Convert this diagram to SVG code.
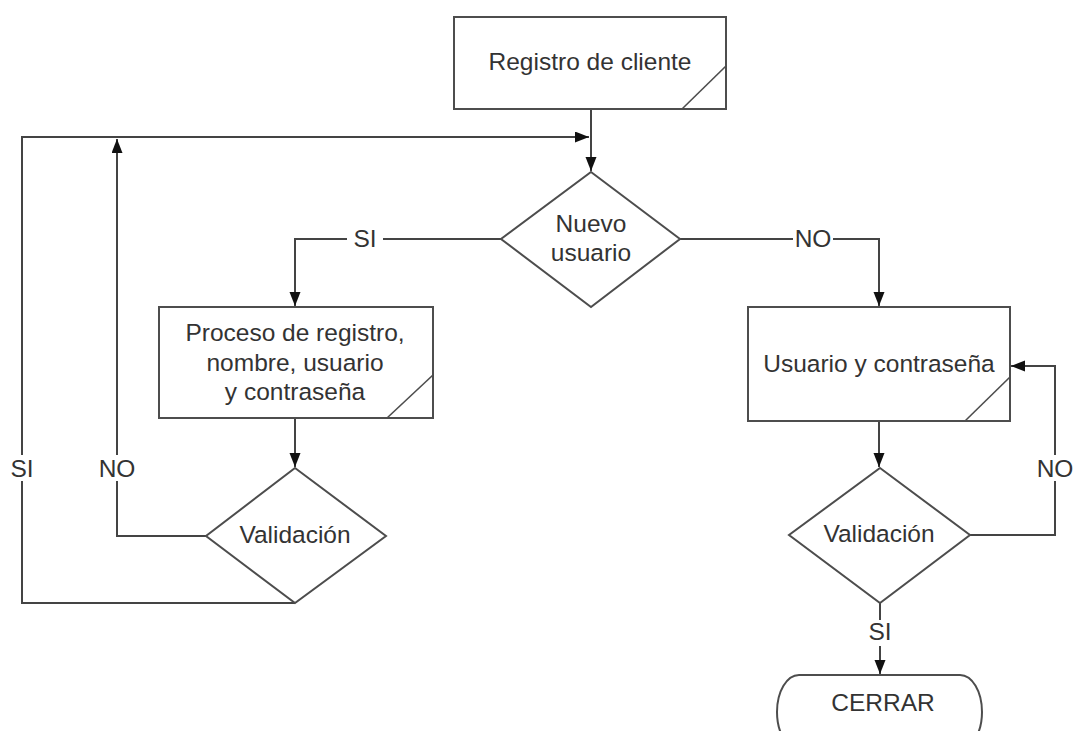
<svg xmlns="http://www.w3.org/2000/svg" width="1073" height="731" viewBox="0 0 1073 731">
<style>
.shape{fill:#fff;stroke:#4d4d4d;stroke-width:2}
.diag{fill:none;stroke:#4d4d4d;stroke-width:1.6}
.conn{fill:none;stroke:#444;stroke-width:2}
.t{font-family:"Liberation Sans",Arial,sans-serif;font-size:24.5px;fill:#333;text-anchor:middle}
.bg{fill:#fff}
</style>
<defs>
<marker id="arr" markerUnits="userSpaceOnUse" markerWidth="15" markerHeight="12" refX="14" refY="5.5" orient="auto">
<path d="M0,0 L14,5.5 L0,11 z" fill="#111"/>
</marker>
</defs>
<rect width="1073" height="731" fill="#fff"/>
<g id="connectors">
<polyline class="conn" points="591,109 591,171" marker-end="url(#arr)"/>
<polyline class="conn" points="295,603 22,603 22,137 589,137" marker-end="url(#arr)"/>
<polyline class="conn" points="206,536 117,536 117,139" marker-end="url(#arr)"/>
<polyline class="conn" points="501,239 295,239 295,306" marker-end="url(#arr)"/>
<polyline class="conn" points="680,239 879,239 879,306" marker-end="url(#arr)"/>
<polyline class="conn" points="295,418 295,467" marker-end="url(#arr)"/>
<polyline class="conn" points="879,421 879,467" marker-end="url(#arr)"/>
<polyline class="conn" points="970,535 1055,535 1055,366 1011,366" marker-end="url(#arr)"/>
<polyline class="conn" points="880,603 880,674" marker-end="url(#arr)"/>
<rect class="bg" x="347" y="226" width="36" height="26"/>
<text class="t" x="365" y="247">SI</text>
<rect class="bg" x="793" y="226" width="40" height="26"/>
<text class="t" x="813" y="247">NO</text>
<rect class="bg" x="4" y="455" width="36" height="26"/>
<text class="t" x="22" y="477">SI</text>
<rect class="bg" x="97" y="455" width="40" height="26"/>
<text class="t" x="117" y="477">NO</text>
<rect class="bg" x="1035" y="455" width="38" height="26"/>
<text class="t" x="1055" y="477">NO</text>
<rect class="bg" x="866" y="620" width="28" height="26"/>
<text class="t" x="880" y="640">SI</text>
</g>
<g id="registro">
<rect class="shape" x="454" y="17" width="272" height="92"/>
<line class="diag" x1="682" y1="109" x2="726" y2="66"/>
<text class="t" x="590" y="70">Registro de cliente</text>
</g>
<g id="nuevo">
<polygon class="shape" points="591,172 680,239 591,307 501,239"/>
<text class="t" x="591" y="232">Nuevo</text>
<text class="t" x="591" y="261">usuario</text>
</g>
<g id="proceso">
<rect class="shape" x="159" y="307" width="274" height="111"/>
<line class="diag" x1="387" y1="418" x2="433" y2="375"/>
<text class="t" x="295" y="341">Proceso de registro,</text>
<text class="t" x="295" y="371">nombre, usuario</text>
<text class="t" x="295" y="400">y contraseña</text>
</g>
<g id="usuario">
<rect class="shape" x="748" y="307" width="262" height="114"/>
<line class="diag" x1="965" y1="421" x2="1010" y2="377"/>
<text class="t" x="879" y="372">Usuario y contraseña</text>
</g>
<g id="validacion-izq">
<polygon class="shape" points="295,468 386,536 295,603 206,536"/>
<text class="t" x="295" y="543">Validación</text>
</g>
<g id="validacion-der">
<polygon class="shape" points="880,468 970,535 880,603 789,535"/>
<text class="t" x="879" y="542">Validación</text>
</g>
<g id="cerrar">
<rect class="shape" x="777" y="675" width="205" height="74" rx="22" ry="37"/>
<text class="t" x="883" y="711">CERRAR</text>
</g>
</svg>
